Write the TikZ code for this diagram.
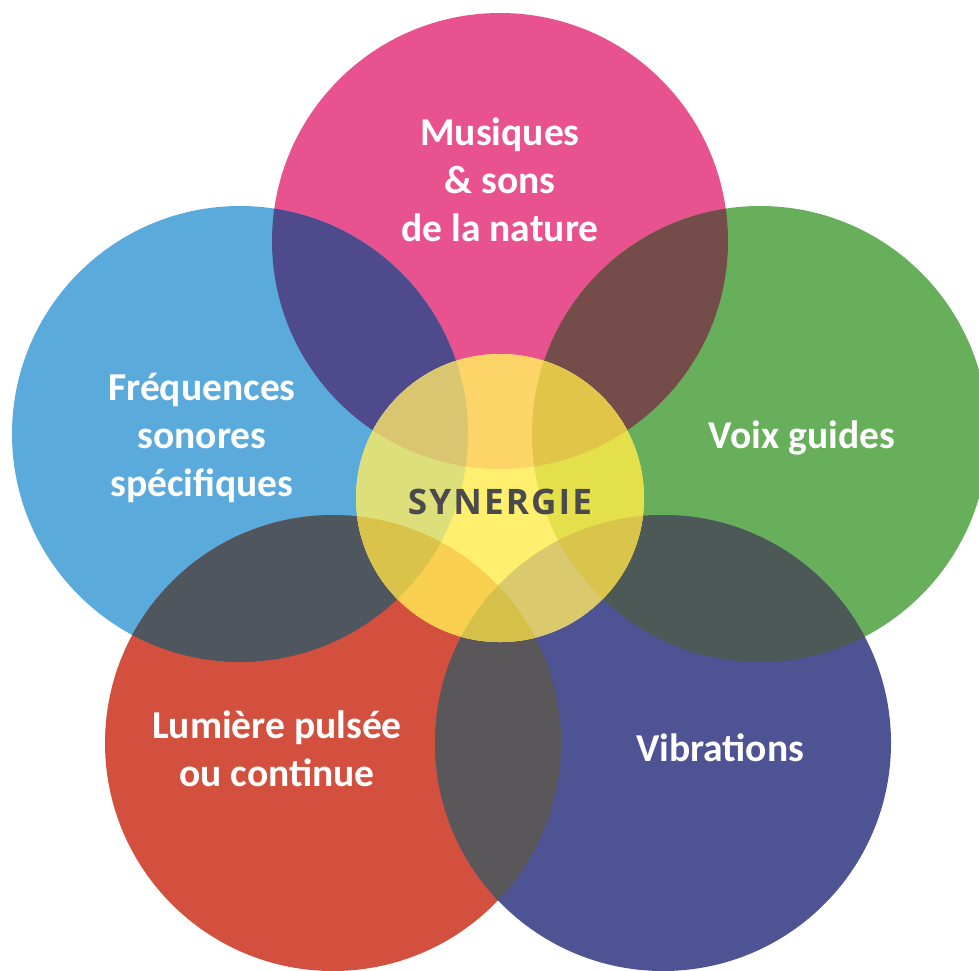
\documentclass[tikz,border=0pt]{standalone}
\usepackage{fontspec}
\setmainfont{Carlito}
\newfontfamily\synfont[LetterSpace=6]{Open Sans}

% circle colours
\definecolor{musC}{HTML}{E8538F}
\definecolor{freqC}{HTML}{5BAADC}
\definecolor{voixC}{HTML}{67AF5B}
\definecolor{lumC}{HTML}{D4503E}
\definecolor{vibC}{HTML}{4E5394}
% outer overlaps
\definecolor{musfreqC}{HTML}{4F4A8C}
\definecolor{musvoixC}{HTML}{744C4A}
\definecolor{freqlumC}{HTML}{4F565D}
\definecolor{voixvibC}{HTML}{4D5956}
\definecolor{lumvibC}{HTML}{5A575B}
% centre and its overlaps
\definecolor{synC}{HTML}{FEEF6E}
\definecolor{synmusC}{HTML}{FDD468}
\definecolor{synfreqC}{HTML}{DDE07A}
\definecolor{synvoixC}{HTML}{E4E04C}
\definecolor{synlumC}{HTML}{F8CF4E}
\definecolor{synvibC}{HTML}{DBC96E}
\definecolor{synmusfreqC}{HTML}{DAC570}
\definecolor{synmusvoixC}{HTML}{E1C548}
\definecolor{synfreqlumC}{HTML}{D9C34A}
\definecolor{synvoixvibC}{HTML}{DAC54C}
\definecolor{synlumvibC}{HTML}{D5C04A}
\definecolor{synText}{HTML}{4A4A4C}

\begin{document}
\begin{tikzpicture}[x=0.02cm, y=-0.02cm,
    label/.style={text=white, align=center, font=\bfseries\fontsize{22.5}{27.3}\selectfont}]
    \useasboundingbox (0,0) rectangle (979,970);
    % define centres
    \coordinate (mus)  at (500, 241);
    \coordinate (freq) at (240, 434);
    \coordinate (voix) at (760, 434);
    \coordinate (lum)  at (333, 743);
    \coordinate (vib)  at (663, 743);
    \coordinate (syn)  at (500, 498);
    % outer circles
    \foreach \a in {mus, freq, voix, lum, vib}
        \fill[\a C] (\a) circle[radius=228];
    % overlaps of neighbours
    \foreach \a/\b in {mus/freq, mus/voix, freq/lum, voix/vib, lum/vib} {
        \begin{scope}
            \clip (\a) circle[radius=228];
            \fill[\a\b C] (\b) circle[radius=228];
        \end{scope}
    }
    % centre circle
    \fill[synC] (syn) circle[radius=144];
    \begin{scope}
        \clip (syn) circle[radius=144];
        \foreach \a in {mus, freq, voix, lum, vib}
            \fill[syn\a C] (\a) circle[radius=228];
        \foreach \a/\b in {mus/freq, mus/voix, freq/lum, voix/vib, lum/vib} {
            \begin{scope}
                \clip (\a) circle[radius=228];
                \fill[syn\a\b C] (\b) circle[radius=228];
            \end{scope}
        }
    \end{scope}
    % labels
    \node[label] (musT)  at (500, 180) {Musiques\\\& sons\\de la nature};
    \node[label] (freqT) at (202, 438) {Fréquences\\sonores\\spécifiques};
    \node[label] (voixT) at (802, 438) {Voix guides};
    \node[label] (lumT)  at (277, 749) {Lumière pulsée\\ou continue};
    \node[label] (vibT)  at (720, 748) {Vibrations};
    \node[text=synText, font=\synfont\bfseries\fontsize{20}{22}\selectfont] (synT) at (500, 502) {SYNERGIE};
\end{tikzpicture}
\end{document}
